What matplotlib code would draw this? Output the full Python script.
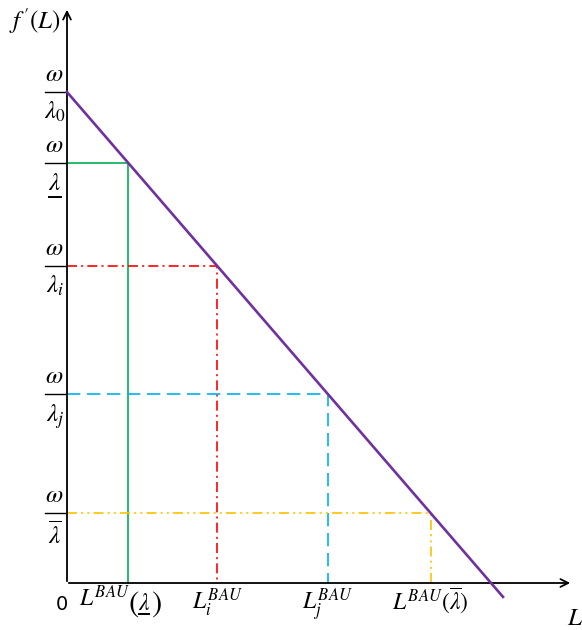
import matplotlib
matplotlib.use("Agg")
import matplotlib.pyplot as plt
import numpy as np

plt.rcParams["mathtext.fontset"] = "stix"

# marginal benefit line f'(L) = a - b L
A_INTERCEPT = 491.0
B_SLOPE = 1.158
L_END = 436.0

# omega / lambda levels on the vertical axis
levels = [420.0, 317.0, 189.0, 70.0]
colors = ["#00B050", "#FF0000", "#00B0F0", "#FFC000"]
styles = ["-", (0, (6, 2.5, 1.2, 2.5)), (0, (8, 4)), (0, (6, 2.5, 1.2, 2.5, 1.2, 2.5))]
y_bottoms = [r"$\lambda$", r"$\lambda_i$", r"$\lambda_j$", r"$\overline{\lambda}$"]
x_labels = [None, r"$L_i^{BAU}$", r"$L_j^{BAU}$",
            r"$L^{BAU}\left(\overline{\lambda}\right)$"]

# quantities where each level meets the line
L_vals = [(A_INTERCEPT - y) / B_SLOPE for y in levels]

fig = plt.figure(figsize=(5.82, 6.30), dpi=100)
ax = fig.add_axes([0, 0, 1, 1])
ax.set_xlim(-67, 515)
ax.set_ylim(-47, 583)
ax.axis("off")

FS = 18
FSX = 17

# axes with open arrow heads
ax.annotate("", xy=(0, 576), xytext=(0, -1),
            arrowprops=dict(arrowstyle="->", color="black", lw=1.3, mutation_scale=14))
ax.annotate("", xy=(506, 0), xytext=(-1, 0),
            arrowprops=dict(arrowstyle="->", color="black", lw=1.3, mutation_scale=14))

# guide lines
for y, L, c, ls in zip(levels, L_vals, colors, styles):
    ax.plot([0, L, L], [y, y, 0], color=c, ls=ls, lw=1.2, zorder=2)

# marginal benefit line
xs = np.array([0.0, L_END])
ax.plot(xs, A_INTERCEPT - B_SLOPE * xs, color="#7030A0", lw=1.9, zorder=3)


# fraction labels on the vertical axis
def frac_label(y, bottom):
    ax.plot([-22, -2], [y, y], color="black", lw=1.0)
    ax.text(-13, y + 6, r"$\omega$", fontsize=FS, ha="center", va="bottom")
    ax.text(-12, y - 8, bottom, fontsize=FS, ha="center", va="top")


frac_label(A_INTERCEPT, r"$\lambda_0$")
for y, b in zip(levels, y_bottoms):
    frac_label(y, b)
# underline marking the lower bound lambda
ax.plot([-18, -6], [levels[0] - 34, levels[0] - 34], color="black", lw=1.4)

ax.text(-32, 562, r"$f\,'(L)$", fontsize=FS, ha="center", va="center")
ax.text(-5, -22, "0", fontsize=14, ha="center", va="center", family="DejaVu Sans")
ax.text(508, -35, r"$L$", fontsize=FS, ha="center", va="center")

# lower-bound quantity label, built in pieces so lambda can be underlined
L0 = L_vals[0]
ax.text(L0 + 1, -3, r"$L^{BAU}$", fontsize=FSX, ha="right", va="top")
ax.text(L0 + 5, -22, "(", fontsize=22, ha="center", va="center", family="STIXGeneral")
ax.text(L0 + 16, -20, r"$\lambda$", fontsize=FSX, ha="center", va="center")
ax.text(L0 + 28, -22, ")", fontsize=22, ha="center", va="center", family="STIXGeneral")
ax.plot([L0 + 11, L0 + 21], [-31, -31], color="black", lw=1.4)

for L, lab in zip(L_vals[1:], x_labels[1:]):
    ax.text(L, -3, lab, fontsize=FSX, ha="center", va="top")

fig.savefig("out.png", dpi=100)
